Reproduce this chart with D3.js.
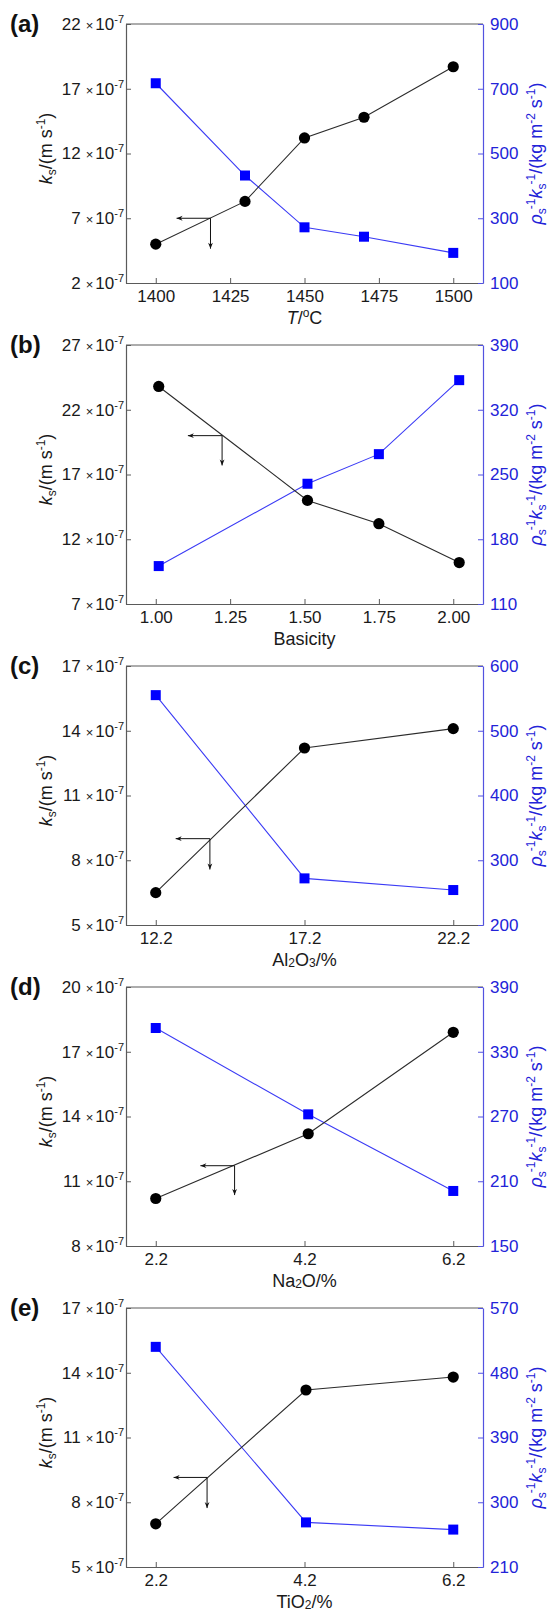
<!DOCTYPE html>
<html>
<head>
<meta charset="utf-8">
<script src="https://cdn.jsdelivr.net/npm/d3@7"></script>
<style>
  body { margin: 0; background: #fff; }
  text { font-family: "Liberation Sans", Arial, sans-serif; }
</style>
</head>
<body>
<script>
// valori (ks in unità di 1e-7 m/s)
const letters = ["(a)", "(b)", "(c)", "(d)", "(e)"];
const xDomains = [[1390, 1510], [0.9, 2.1], [11.2, 23.2], [1.8, 6.6], [1.8, 6.6]];
const xTickValues = [[1400, 1425, 1450, 1475, 1500], [1, 1.25, 1.5, 1.75, 2], [12.2, 17.2, 22.2], [2.2, 4.2, 6.2], [2.2, 4.2, 6.2]];
const xTickLabels = [["1400", "1425", "1450", "1475", "1500"], ["1.00", "1.25", "1.50", "1.75", "2.00"], ["12.2", "17.2", "22.2"], ["2.2", "4.2", "6.2"], ["2.2", "4.2", "6.2"]];
const xValues = [[1400, 1430, 1450, 1470, 1500], [1.01, 1.51, 1.75, 2.02], [12.2, 17.2, 22.2], [2.2, 4.25, 6.2], [2.2, 4.22, 6.2]];
const ksValues = [[5.0, 8.3, 13.2, 14.8, 18.7], [23.8, 15.0, 13.2, 10.2], [6.5, 13.2, 14.1], [10.2, 13.2, 17.9], [7.0, 13.2, 13.8]];
const rhoValues = [[717, 432, 272, 243, 193], [151, 240, 272, 352], [555, 272, 254], [352, 272, 201], [516, 272, 262]];
const ksTicks = [[2, 7, 12, 17, 22], [7, 12, 17, 22, 27], [5, 8, 11, 14, 17], [8, 11, 14, 17, 20], [5, 8, 11, 14, 17]];
const rhoTicks = [[100, 300, 500, 700, 900], [110, 180, 250, 320, 390], [200, 300, 400, 500, 600], [150, 210, 270, 330, 390], [210, 300, 390, 480, 570]];
// freccia: [x angolo, x punta sinistra, y angolo, y punta in basso] (unità dei dati, asse sinistro)
const arrows = [[1418.4, 1407, 7.0, 4.65], [1.223, 1.108, 20.0, 17.7], [14.02, 12.87, 9.0, 7.57], [3.26, 2.8, 11.72, 10.36], [2.89, 2.44, 9.15, 7.73]];
// titoli asse x: [testo, stile] ("sub" = pedice, "sup" = apice, "it" = corsivo)
const xTitles = [
  [["T", "it"], ["/", ""], ["o", "sup"], ["C", "after"]],
  [["Basicity", ""]],
  [["Al", ""], ["2", "sub"], ["O", "after"], ["3", "sub"], ["/%", "after"]],
  [["Na", ""], ["2", "sub"], ["O/%", "after"]],
  [["TiO", ""], ["2", "sub"], ["/%", "after"]]
];

const W = 549, H = 1614;
const left = 126, right = 483, plotH = 259, top0 = 24, step = 321;
const frameColor = "#5a5a5a", blueAxis = "#5252e0", blueText = "#2323d8";

const svg = d3.select("body").append("svg").attr("width", W).attr("height", H);

svg.append("defs").append("marker")
  .attr("id", "arrowHead")
  .attr("viewBox", "0 0 10 10")
  .attr("refX", 10).attr("refY", 5)
  .attr("markerUnits", "userSpaceOnUse")
  .attr("markerWidth", 8).attr("markerHeight", 6)
  .attr("orient", "auto")
  .append("path").attr("d", "M0,1 L10,5 L0,9 L3,5 Z").attr("fill", "#111");

/*
* Disegna un pannello
*/
function drawPanel(i) {
  const g = svg.append("g").attr("transform", `translate(0,${top0 + i * step})`);
  const x = d3.scaleLinear().domain(xDomains[i]).range([left, right]);
  const yL = d3.scaleLinear().domain(d3.extent(ksTicks[i])).range([plotH, 0]);
  const yR = d3.scaleLinear().domain(d3.extent(rhoTicks[i])).range([plotH, 0]);

  // bordo superiore
  g.append("line").attr("x1", left).attr("x2", right).attr("y1", 0).attr("y2", 0)
    .attr("stroke", frameColor).attr("stroke-width", 1.2);

  // asse x
  const ax = g.append("g").attr("transform", `translate(0,${plotH})`)
    .call(d3.axisBottom(x).tickValues(xTickValues[i]).tickSize(-5).tickSizeOuter(0).tickPadding(7)
      .tickFormat((d, j) => xTickLabels[i][j]));
  ax.select(".domain").attr("stroke", frameColor).attr("stroke-width", 1.2);
  ax.selectAll(".tick line").attr("stroke", frameColor);
  ax.selectAll(".tick text").attr("font-size", 17).attr("fill", "#1a1a1a");

  // asse sinistro
  const ay = g.append("g").attr("transform", `translate(${left},0)`)
    .call(d3.axisLeft(yL).tickValues(ksTicks[i]).tickSize(-5).tickSizeOuter(0).tickPadding(2));
  ay.select(".domain").attr("stroke", frameColor).attr("stroke-width", 1.2);
  ay.selectAll(".tick line").attr("stroke", frameColor);
  ay.selectAll(".tick text").each(function (d) {
    const t = d3.select(this).text(null).attr("font-size", 17).attr("fill", "#1a1a1a");
    t.append("tspan").text(d);
    t.append("tspan").attr("font-size", 13).attr("dx", 5).text("×");
    t.append("tspan").attr("dx", 2).text("10");
    t.append("tspan").attr("font-size", 11).attr("dy", -7).text("-7");
  });

  // asse destro
  const ar = g.append("g").attr("transform", `translate(${right},0)`)
    .call(d3.axisRight(yR).tickValues(rhoTicks[i]).tickSize(-5).tickSizeOuter(0).tickPadding(7));
  ar.select(".domain").attr("stroke", blueAxis).attr("stroke-width", 1.2);
  ar.selectAll(".tick line").attr("stroke", blueAxis);
  ar.selectAll(".tick text").attr("font-size", 17).attr("fill", blueText);

  // lettera del pannello
  g.append("text").attr("x", 10).attr("y", 8).attr("font-size", 24).attr("font-weight", "bold")
    .attr("fill", "#111").text(letters[i]);

  // titolo asse x
  const xt = g.append("text").attr("x", (left + right) / 2).attr("y", plotH + 41)
    .attr("text-anchor", "middle").attr("font-size", 18).attr("fill", "#1a1a1a");
  let shift = 0;
  xTitles[i].forEach(([s, kind]) => {
    const ts = xt.append("tspan").text(s);
    if (kind === "it") ts.attr("font-style", "italic");
    if (kind === "sub") { ts.attr("font-size", 12).attr("dy", 1 - shift); shift = 1; }
    else if (kind === "sup") { ts.attr("font-size", 12).attr("dy", -7 - shift); shift = -7; }
    else if (kind === "after") { ts.attr("dy", -shift); shift = 0; }
  });

  // titolo asse sinistro
  const lt = g.append("text").attr("transform", `translate(52,${plotH / 2 - 5}) rotate(-90)`)
    .attr("text-anchor", "middle").attr("font-size", 18).attr("fill", "#1a1a1a");
  lt.append("tspan").attr("font-style", "italic").text("k");
  lt.append("tspan").attr("font-size", 12).attr("dy", 4).text("s");
  lt.append("tspan").attr("dy", -4).text("/(m s");
  lt.append("tspan").attr("font-size", 12).attr("dy", -7).text("-1");
  lt.append("tspan").attr("dy", 7).text(")");

  // titolo asse destro
  const rt = g.append("text").attr("transform", `translate(542,${plotH / 2}) rotate(-90)`)
    .attr("text-anchor", "middle").attr("font-size", 18).attr("fill", blueText);
  rt.append("tspan").attr("font-style", "italic").text("ρ");
  rt.append("tspan").attr("font-size", 12).attr("dy", 4).text("s");
  rt.append("tspan").attr("font-size", 12).attr("dy", -11).attr("dx", -1).text("-1");
  rt.append("tspan").attr("font-style", "italic").attr("dy", 7).text("k");
  rt.append("tspan").attr("font-size", 12).attr("dy", 4).text("s");
  rt.append("tspan").attr("font-size", 12).attr("dy", -11).attr("dx", -1).text("-1");
  rt.append("tspan").attr("dy", 7).text("/(kg m");
  rt.append("tspan").attr("font-size", 12).attr("dy", -7).text("-2");
  rt.append("tspan").attr("dy", 7).text(" s");
  rt.append("tspan").attr("font-size", 12).attr("dy", -7).text("-1");
  rt.append("tspan").attr("dy", 7).text(")");

  // linee dei dati
  const ksPts = xValues[i].map((v, j) => [x(v), yL(ksValues[i][j])]);
  const rhoPts = xValues[i].map((v, j) => [x(v), yR(rhoValues[i][j])]);
  g.append("path").attr("d", d3.line()(rhoPts)).attr("fill", "none")
    .attr("stroke", "#3b3bf5").attr("stroke-width", 1.1);
  g.append("path").attr("d", d3.line()(ksPts)).attr("fill", "none")
    .attr("stroke", "#2b2b2b").attr("stroke-width", 1.1);

  g.selectAll("rect.sq").data(rhoPts).enter().append("rect").attr("class", "sq")
    .attr("x", d => d[0] - 5).attr("y", d => d[1] - 5)
    .attr("width", 10).attr("height", 10).attr("fill", "#0000ff");
  g.selectAll("circle.pt").data(ksPts).enter().append("circle").attr("class", "pt")
    .attr("cx", d => d[0]).attr("cy", d => d[1]).attr("r", 5.6).attr("fill", "#000");

  // frecce verso l'asse sinistro
  const a = arrows[i];
  g.append("line").attr("x1", x(a[0])).attr("y1", yL(a[2])).attr("x2", x(a[1])).attr("y2", yL(a[2]))
    .attr("stroke", "#111").attr("stroke-width", 1).attr("marker-end", "url(#arrowHead)");
  g.append("line").attr("x1", x(a[0])).attr("y1", yL(a[2])).attr("x2", x(a[0])).attr("y2", yL(a[3]))
    .attr("stroke", "#111").attr("stroke-width", 1).attr("marker-end", "url(#arrowHead)");
}

letters.forEach((d, i) => drawPanel(i));
</script>
</body>
</html>
